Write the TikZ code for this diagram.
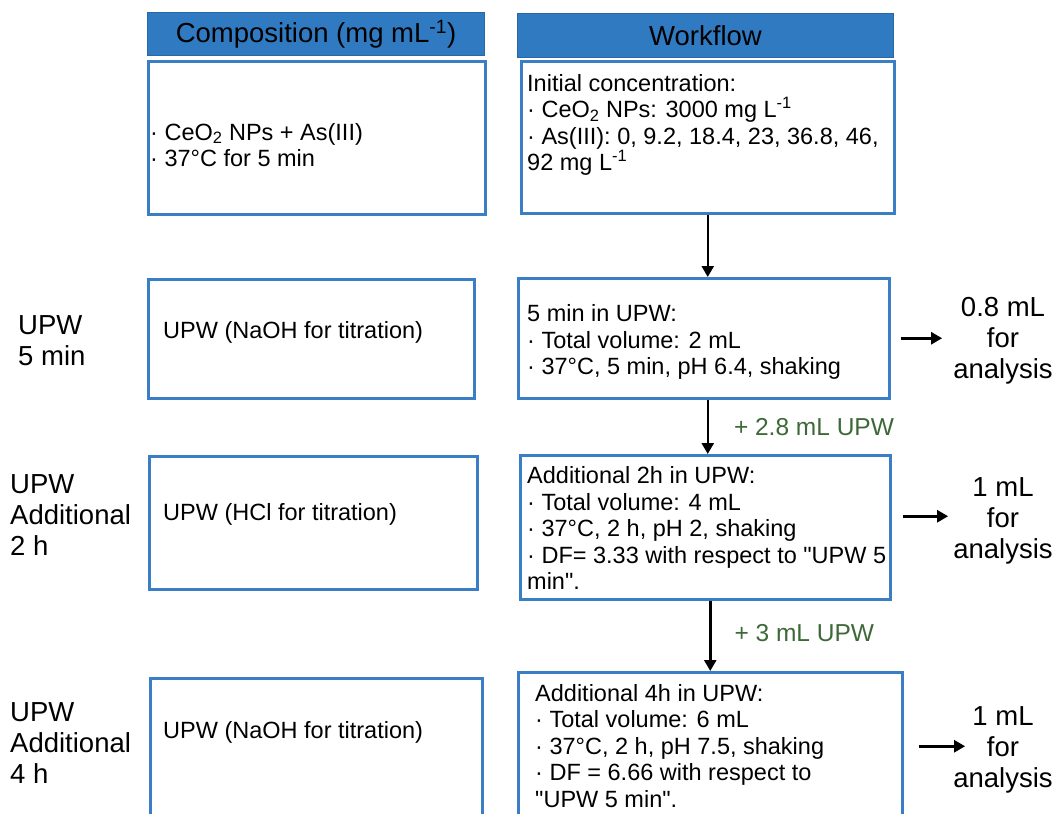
\documentclass[tikz,border=0pt]{standalone}
\usepackage{fontspec}
\setmainfont{Liberation Sans}[Ligatures=TeXOff]
\usetikzlibrary{arrows.meta}
\definecolor{hdr}{RGB}{48,122,193}
\definecolor{bdr}{RGB}{58,126,198}
\definecolor{grn}{RGB}{60,105,55}
\begin{document}
\begin{tikzpicture}[x=1pt,y=-1pt,
 box/.style={draw=bdr,line width=2.5pt,anchor=north west,inner sep=0},
 hdrbox/.style={fill=hdr,draw=hdr!85!black,line width=1pt,anchor=north west,inner sep=0,font=\fontsize{27.5}{30}\selectfont},
 body/.style={anchor=west,align=left,inner sep=0,font=\fontsize{23.5}{26.5}\selectfont},
 side/.style={anchor=west,align=left,inner sep=0,font=\fontsize{27.5}{31}\selectfont},
 ana/.style={align=center,inner sep=0,font=\fontsize{27.5}{31}\selectfont},
 arr/.style={line width=2.5pt,-{Triangle[length=11pt,width=12pt]}},
 add/.style={anchor=west,inner sep=0,text=grn,font=\fontsize{24.5}{26}\selectfont}]
\useasboundingbox (0,0) rectangle (1058,814);
\clip (0,0) rectangle (1058,814);
\fill[white] (0,0) rectangle (1058,814);
% headers
\node[hdrbox,minimum width=337pt,minimum height=43pt] (h1) at (147,12) {Composition (mg mL\textsuperscript{-1})};
\node[hdrbox,minimum width=376pt,minimum height=44pt] (h2) at (517,13) {Workflow};
% boxes
\node[box,minimum width=337pt,minimum height=153pt] (c1) at (147,60) {};
\node[box,minimum width=373pt,minimum height=152pt] (w1) at (520,60) {};
\node[box,minimum width=326pt,minimum height=119pt] (c2) at (147,278) {};
\node[box,minimum width=371pt,minimum height=120pt] (w2) at (517,277) {};
\node[box,minimum width=328pt,minimum height=133pt] (c3) at (148,455) {};
\node[box,minimum width=370pt,minimum height=144pt] (w3) at (519,454) {};
\node[box,minimum width=332pt,minimum height=160pt] (c4) at (149,677) {};
\node[box,minimum width=384pt,minimum height=160pt] (w4) at (517,671) {};
% texts
\node[body] (tc1) at (150,145) {· CeO\textsubscript{2} NPs + As(III)\\· 37°C for 5 min};
\node[body] (tw1) at (527,125) {Initial concentration:\\· CeO\textsubscript{2} NPs: 3000 mg L\textsuperscript{-1}\\· As(III): 0, 9.2, 18.4, 23, 36.8, 46,\\92 mg L\textsuperscript{-1}};
\node[body] (tw2) at (527,342) {5 min in UPW:\\· Total volume: 2 mL\\· 37°C, 5 min, pH 6.4, shaking};
\node[body] (tw3) at (527,528) {Additional 2h in UPW:\\· Total volume: 4 mL\\· 37°C, 2 h, pH 2, shaking\\· DF= 3.33 with respect to "UPW 5\\min".};
\node[body] (tw4) at (535,746) {Additional 4h in UPW:\\· Total volume: 6 mL\\· 37°C, 2 h, pH 7.5, shaking\\· DF = 6.66 with respect to\\"UPW 5 min".};
\node[body] (tc2) at (163,332) {UPW (NaOH for titration)};
\node[body] (tc3) at (163,514) {UPW (HCl for titration)};
\node[body] (tc4) at (163,732) {UPW (NaOH for titration)};
% side labels
\node[side] (s1) at (18,341) {UPW\\5 min};
\node[side] (s2) at (10,515) {UPW\\Additional\\2 h};
\node[side] (s3) at (10,743) {UPW\\Additional\\4 h};
% analysis
\node[ana] (a1) at (1003,341) {0.8 mL\\for\\analysis};
\node[ana] (a2) at (1003,521) {1 mL\\for\\analysis};
\node[ana] (a3) at (1003,750) {1 mL\\for\\analysis};
% arrows down
\draw[arr] (w1.south) -- (w1.south |- w2.north);
\draw[arr] ([xshift=4pt]w2.south) -- ([xshift=4pt]w2.south |- w3.north)
  node[add,midway,xshift=25pt,yshift=0pt] (g1) {+ 2.8 mL UPW};
\draw[arr] ([xshift=5pt]w3.south) -- ([xshift=5pt]w3.south |- w4.north)
  node[add,midway,xshift=23pt,yshift=3pt] (g2) {+ 3 mL UPW};
% arrows right
\coordinate (r1s) at ([xshift=10pt]w2.east);
\coordinate (r1t) at ([xshift=-11pt]a1.west);
\coordinate (r2s) at ([xshift=11pt,yshift=11pt]w3.east);
\coordinate (r2t) at ([xshift=-5pt]a2.west);
\coordinate (r3s) at ([xshift=15pt,yshift=6pt]w4.east);
\coordinate (r3t) at ([xshift=12pt]a3.west);
\draw[arr] (r1s) -- (r1s -| r1t);
\draw[arr] (r2s) -- (r2s -| r2t);
\draw[arr] (r3s) -- (r3s -| r3t);
\end{tikzpicture}
\end{document}
